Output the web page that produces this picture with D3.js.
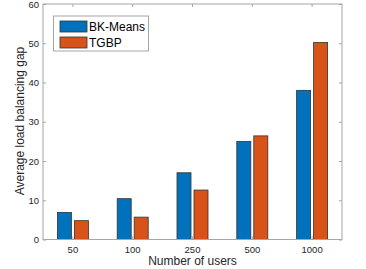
<!DOCTYPE html>
<html><head><meta charset="utf-8">
<script src="https://cdn.jsdelivr.net/npm/d3@7"></script>
<style>body{margin:0;background:#fff}svg{display:block}text{font-family:"Liberation Sans",Arial,sans-serif}</style>
</head><body>
<svg id="c" width="366" height="269"></svg>
<script>
const categories = ["50","100","250","500","1000"];
const seriesNames = ["BK-Means","TGBP"];
const bkMeans = [6.9, 10.4, 17.0, 25.0, 38.0];
const tgbp = [4.8, 5.7, 12.6, 26.4, 50.2];
const yTicks = [0,10,20,30,40,50,60];
const colors = ["#0072BD","#D95319"];

const svg = d3.select("#c");
const L=43, R=342, T=4, B=239.5;
const x = d3.scaleBand().domain(categories).range([L,R]).paddingInner(0).paddingOuter(0);
const y = d3.scaleLinear().domain([0,60]).range([B,T]);
const bw = 14, gap = 3;
const series = [bkMeans, tgbp];

// bars
series.forEach((vals,si)=>{
  svg.append("g").selectAll("rect").data(vals).join("rect")
    .attr("x",(d,i)=>x(categories[i])+x.bandwidth()/2 + (si===0? -gap/2-bw : gap/2))
    .attr("y",d=>y(d))
    .attr("width",bw)
    .attr("height",d=>B-y(d))
    .attr("fill",colors[si])
    .attr("stroke","#333")
    .attr("stroke-width",0.8);
});

const axisColor="#a6a6a6";
// box
svg.append("rect").attr("x",L).attr("y",T).attr("width",R-L).attr("height",B-T)
  .attr("fill","none").attr("stroke",axisColor).attr("stroke-width",1);

const yl = svg.append("g").attr("transform",`translate(${L},0)`)
  .call(d3.axisLeft(y).tickValues(yTicks).tickSize(-3).tickPadding(4));
const yr = svg.append("g").attr("transform",`translate(${R},0)`)
  .call(d3.axisRight(y).tickValues(yTicks).tickSize(-3).tickFormat(""));
const xb = svg.append("g").attr("transform",`translate(0,${B})`)
  .call(d3.axisBottom(x).tickSize(-3).tickPadding(7));
const xt = svg.append("g").attr("transform",`translate(0,${T})`)
  .call(d3.axisTop(x).tickSize(-3).tickFormat(""));
[yl,yr,xb,xt].forEach(g=>{
  g.select(".domain").remove();
  g.selectAll(".tick line").attr("stroke",axisColor);
  g.selectAll("text").attr("fill","#262626").style("font-size","9.5px").style("font-family","Liberation Sans, Arial, sans-serif");
});

svg.append("text").attr("x",192.5).attr("y",265).attr("text-anchor","middle")
  .attr("fill","#262626").style("font-size","12px").text("Number of users");
svg.append("text").attr("transform","translate(24,121) rotate(-90)").attr("text-anchor","middle")
  .attr("fill","#262626").style("font-size","12px").text("Average load balancing gap");

const lg = svg.append("g");
lg.append("rect").attr("x",53.5).attr("y",16).attr("width",95).attr("height",35)
  .attr("fill","#fff").attr("stroke",axisColor).attr("stroke-width",1);
seriesNames.forEach((n,i)=>{
  lg.append("rect").attr("x",60).attr("y",21+i*16).attr("width",27).attr("height",11)
    .attr("fill",colors[i]).attr("stroke","#333").attr("stroke-width",0.8);
  lg.append("text").attr("x",89).attr("y",31+i*16).attr("fill","#000")
    .style("font-size","12px").text(n);
});
</script>
</body></html>
